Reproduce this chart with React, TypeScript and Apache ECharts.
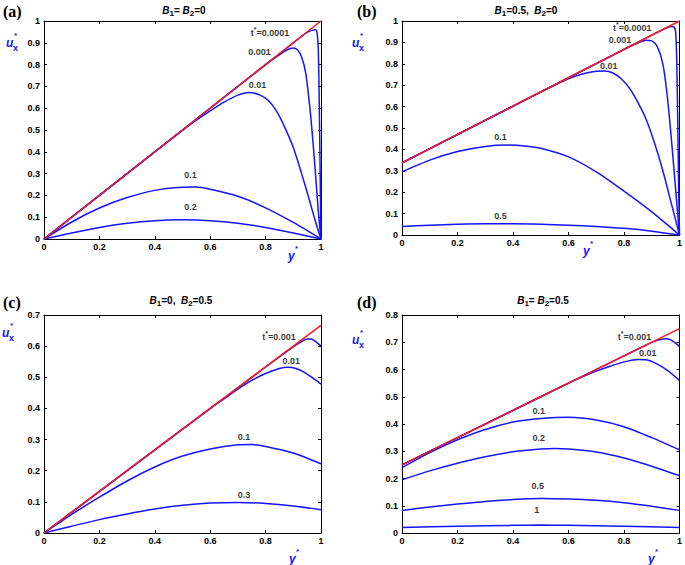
import React, { useEffect, useRef } from 'react';
import * as echarts from 'echarts';

type Pt = [number, number];

// ---------- Panel (a): B1 = B2 = 0 ----------
const aSteady: Pt[] = [[0, 0], [1, 1]];
const aT00001: Pt[] = [[0, 0], [0.5, 0.5], [0.9, 0.9], [0.95, 0.948], [0.97, 0.958], [0.98, 0.96], [0.985, 0.952], [0.99, 0.88], [0.994, 0.6], [0.997, 0.3], [1, 0]];
const aT0001: Pt[] = [[0, 0], [0.5, 0.5], [0.8, 0.8], [0.85, 0.845], [0.875, 0.866], [0.9, 0.876], [0.915, 0.868], [0.93, 0.835], [0.945, 0.76], [0.96, 0.6], [0.97, 0.46], [0.98, 0.3], [0.99, 0.13], [1, 0]];
const aT001: Pt[] = [[0, 0], [0.4, 0.4], [0.5, 0.498], [0.55, 0.545], [0.6, 0.588], [0.65, 0.628], [0.7, 0.66], [0.74, 0.672], [0.78, 0.66], [0.81, 0.635], [0.84, 0.585], [0.87, 0.51], [0.9, 0.42], [0.93, 0.3], [0.96, 0.17], [0.98, 0.08], [1, 0]];
const aT01: Pt[] = [[0, 0], [0.1, 0.078], [0.2, 0.142], [0.3, 0.19], [0.4, 0.223], [0.5, 0.237], [0.55, 0.238], [0.6, 0.228], [0.7, 0.196], [0.8, 0.143], [0.9, 0.076], [1, 0]];
const aT02: Pt[] = [[0, 0], [0.1, 0.028], [0.2, 0.053], [0.3, 0.072], [0.4, 0.084], [0.5, 0.088], [0.6, 0.084], [0.7, 0.072], [0.8, 0.053], [0.9, 0.028], [1, 0]];
const aLabels = ['t*=0.0001', '0.001', '0.01', '0.1', '0.2'];
const aLabelAt: Pt[] = [[0.816, 0.945], [0.778, 0.858], [0.771, 0.706], [0.529, 0.294], [0.529, 0.147]];

// ---------- Panel (b): B1 = 0.5, B2 = 0 ----------
const bSteady: Pt[] = [[0, 0.337], [1, 1]];
const bT00001: Pt[] = [[0, 0.337], [0.9, 0.934], [0.95, 0.966], [0.97, 0.974], [0.98, 0.972], [0.986, 0.95], [0.99, 0.82], [0.994, 0.5], [0.997, 0.22], [1, 0]];
const bT0001: Pt[] = [[0, 0.337], [0.8, 0.867], [0.85, 0.897], [0.88, 0.91], [0.9, 0.907], [0.92, 0.88], [0.94, 0.8], [0.955, 0.66], [0.97, 0.46], [0.985, 0.23], [1, 0]];
const bT001: Pt[] = [[0, 0.337], [0.5, 0.668], [0.55, 0.7], [0.6, 0.73], [0.65, 0.752], [0.7, 0.765], [0.73, 0.766], [0.76, 0.757], [0.79, 0.73], [0.82, 0.685], [0.85, 0.62], [0.88, 0.54], [0.91, 0.43], [0.94, 0.3], [0.97, 0.15], [1, 0]];
const bT01: Pt[] = [[0, 0.295], [0.1, 0.35], [0.2, 0.39], [0.3, 0.414], [0.38, 0.42], [0.45, 0.415], [0.5, 0.405], [0.6, 0.365], [0.7, 0.295], [0.8, 0.205], [0.9, 0.108], [1, 0]];
const bT05: Pt[] = [[0, 0.04], [0.1, 0.046], [0.2, 0.05], [0.3, 0.052], [0.4, 0.052], [0.5, 0.05], [0.6, 0.046], [0.7, 0.04], [0.8, 0.031], [0.9, 0.018], [1, 0]];
const bLabels = ['t*=0.0001', '0.001', '0.01', '0.1', '0.5'];
const bLabelAt: Pt[] = [[0.83, 0.967], [0.786, 0.911], [0.745, 0.79], [0.355, 0.458], [0.355, 0.089]];

// ---------- Panel (c): B1 = 0, B2 = 0.5 ----------
const cSteady: Pt[] = [[0, 0], [1, 0.667]];
const cT0001: Pt[] = [[0, 0], [0.8, 0.533], [0.9, 0.598], [0.93, 0.615], [0.95, 0.623], [0.965, 0.623], [0.98, 0.615], [1, 0.6]];
const cT001: Pt[] = [[0, 0], [0.6, 0.4], [0.65, 0.431], [0.7, 0.462], [0.75, 0.49], [0.8, 0.512], [0.85, 0.528], [0.88, 0.532], [0.91, 0.528], [0.94, 0.516], [0.97, 0.498], [1, 0.478]];
const cT01: Pt[] = [[0, 0], [0.05, 0.03], [0.1, 0.06], [0.2, 0.115], [0.3, 0.167], [0.4, 0.212], [0.5, 0.247], [0.6, 0.27], [0.7, 0.283], [0.75, 0.284], [0.8, 0.278], [0.9, 0.257], [1, 0.222]];
const cT03: Pt[] = [[0, 0], [0.1, 0.022], [0.2, 0.043], [0.3, 0.061], [0.4, 0.077], [0.5, 0.089], [0.6, 0.096], [0.7, 0.098], [0.8, 0.095], [0.9, 0.087], [1, 0.075]];
const cLabels = ['t*=0.001', '0.01', '0.1', '0.3'];
const cLabelAt: Pt[] = [[0.848, 0.629], [0.893, 0.552], [0.722, 0.308], [0.722, 0.122]];

// ---------- Panel (d): B1 = B2 = 0.5 ----------
const dSteady: Pt[] = [[0, 0.25], [1, 0.75]];
const dT0001: Pt[] = [[0, 0.25], [0.8, 0.65], [0.88, 0.69], [0.92, 0.707], [0.95, 0.713], [0.97, 0.708], [1, 0.685]];
const dT001: Pt[] = [[0, 0.25], [0.5, 0.5], [0.6, 0.55], [0.65, 0.573], [0.7, 0.594], [0.75, 0.612], [0.8, 0.628], [0.85, 0.637], [0.88, 0.636], [0.92, 0.62], [0.96, 0.594], [1, 0.56]];
const dT01: Pt[] = [[0, 0.24], [0.1, 0.295], [0.2, 0.342], [0.3, 0.38], [0.4, 0.407], [0.5, 0.42], [0.6, 0.425], [0.7, 0.415], [0.8, 0.39], [0.9, 0.35], [1, 0.305]];
const dT02: Pt[] = [[0, 0.195], [0.1, 0.228], [0.2, 0.256], [0.3, 0.28], [0.4, 0.298], [0.5, 0.308], [0.55, 0.31], [0.6, 0.308], [0.7, 0.297], [0.8, 0.275], [0.9, 0.245], [1, 0.21]];
const dT05: Pt[] = [[0, 0.083], [0.1, 0.095], [0.2, 0.106], [0.3, 0.116], [0.4, 0.123], [0.5, 0.127], [0.6, 0.125], [0.7, 0.12], [0.8, 0.111], [0.9, 0.098], [1, 0.083]];
const dT1: Pt[] = [[0, 0.02], [0.2, 0.025], [0.4, 0.028], [0.5, 0.029], [0.6, 0.028], [0.8, 0.025], [1, 0.02]];
const dLabels = ['t*=0.001', '0.01', '0.1', '0.2', '0.5', '1'];
const dLabelAt: Pt[] = [[0.8375, 0.719], [0.886, 0.66], [0.493, 0.448], [0.493, 0.349], [0.489, 0.172], [0.486, 0.084]];

// axis ranges
const yMaxes = [1, 1, 0.7, 0.8];
const xMax = 1;

const panelLetters = ['(a)', '(b)', '(c)', '(d)'];
const panelTitles = [
  '{i|B}{sub|1}{n|= }{i|B}{sub|2}{n|=0}',
  '{i|B}{sub|1}{n|=0.5,  }{i|B}{sub|2}{n|=0}',
  '{i|B}{sub|1}{n|=0,  }{i|B}{sub|2}{n|=0.5}',
  '{i|B}{sub|1}{n|= }{i|B}{sub|2}{n|=0.5}',
];

const panels = [
  { steady: aSteady, curves: [aT00001, aT0001, aT001, aT01, aT02], labels: aLabels, labelAt: aLabelAt },
  { steady: bSteady, curves: [bT00001, bT0001, bT001, bT01, bT05], labels: bLabels, labelAt: bLabelAt },
  { steady: cSteady, curves: [cT0001, cT001, cT01, cT03], labels: cLabels, labelAt: cLabelAt },
  { steady: dSteady, curves: [dT0001, dT001, dT01, dT02, dT05, dT1], labels: dLabels, labelAt: dLabelAt },
];

// layout (pixels)
const grids = [
  { left: 44, top: 21, width: 277, height: 218 },
  { left: 402, top: 21, width: 280, height: 214 },
  { left: 44, top: 315, width: 277, height: 218 },
  { left: 402, top: 315, width: 280, height: 218 },
];
const letterPos = [[3, 11], [357, 11], [3, 302], [357, 302]];
const titlePos = [[184, 10], [526, 10], [181, 300], [543, 300]];
const uPos = [[6, 43], [352, 43], [2, 333], [352, 340]];
const yNamePos = [[288, 256], [583, 251], [289, 559], [648, 559]];

const FONT = '"Liberation Sans", Arial, sans-serif';
const SERIF = '"Liberation Serif", "Times New Roman", serif';
const BLUE = '#1414ff';
const RED = '#ff1a1a';

function buildOption() {
  const xAxes: any[] = [];
  const yAxes: any[] = [];
  const series: any[] = [];
  const graphic: any[] = [];
  const axisLineStyle = { color: '#000', width: 1 };

  panels.forEach((p, i) => {
    const common = { min: 0, splitLine: { show: false }, axisLine: { show: true, onZero: false, lineStyle: axisLineStyle } };
    xAxes.push({
      ...common, type: 'value', gridIndex: i, position: 'bottom', max: xMax, interval: 0.2,
      axisTick: { show: true, inside: true, length: 3, lineStyle: { color: '#000' } },
      axisLabel: { show: true, color: '#000', fontSize: 9, fontWeight: 'bold', fontFamily: FONT, margin: 3 },
    });
    xAxes.push({
      ...common, type: 'value', gridIndex: i, position: 'top', max: xMax, interval: 0.2,
      axisTick: { show: true, inside: true, length: 3, lineStyle: { color: '#000' } },
      axisLabel: { show: false },
    });
    yAxes.push({
      ...common, type: 'value', gridIndex: i, position: 'left', max: yMaxes[i], interval: 0.1,
      axisTick: { show: true, inside: true, length: 3, lineStyle: { color: '#000' } },
      axisLabel: { show: true, color: '#000', fontSize: 9, fontWeight: 'bold', fontFamily: FONT, margin: 4 },
    });
    yAxes.push({
      ...common, type: 'value', gridIndex: i, position: 'right', max: yMaxes[i], interval: 0.1,
      axisTick: { show: true, inside: true, length: 3, lineStyle: { color: '#000' } },
      axisLabel: { show: false },
    });
    const xi = i * 2;
    const yi = i * 2;
    p.curves.forEach((c) => {
      series.push({
        type: 'line', xAxisIndex: xi, yAxisIndex: yi, data: c, symbol: 'none', showSymbol: false,
        smooth: 0.25, silent: true, z: 2,
        lineStyle: { color: BLUE, width: 1.5 },
      });
    });
    series.push({
      type: 'line', xAxisIndex: xi, yAxisIndex: yi, data: p.steady, symbol: 'none', showSymbol: false,
      silent: true, z: 3, lineStyle: { color: RED, width: 1.5 },
    });
    series.push({
      type: 'scatter', xAxisIndex: xi, yAxisIndex: yi, silent: true, z: 4,
      symbolSize: 1, itemStyle: { color: 'rgba(0,0,0,0)' },
      data: p.labels.map((t, k) => ({ value: p.labelAt[k], name: t })),
      label: {
        show: true, position: 'inside', color: '#000',
        formatter: (prm: any) => {
          const s: string = prm.name;
          if (s.startsWith('t*')) return '{n|t}{s|*}{n|' + s.slice(2) + '}';
          return '{n|' + s + '}';
        },
        rich: {
          n: { fontSize: 9, fontWeight: 'bold', fontFamily: FONT, color: '#000' },
          s: { fontSize: 7, fontWeight: 'bold', fontFamily: FONT, color: '#000', padding: [0, 0, 7, 0] },
        },
      },
    });

    graphic.push({
      type: 'text', x: letterPos[i][0], y: letterPos[i][1],
      style: { text: panelLetters[i], font: 'bold 16px ' + SERIF, fill: '#000', align: 'left', verticalAlign: 'middle' },
    });
    graphic.push({
      type: 'text', x: titlePos[i][0], y: titlePos[i][1],
      style: {
        text: panelTitles[i], align: 'center', verticalAlign: 'middle', fill: '#000',
        rich: {
          i: { fontSize: 10, fontStyle: 'italic', fontWeight: 'bold', fontFamily: FONT, fill: '#000' },
          n: { fontSize: 10, fontWeight: 'bold', fontFamily: FONT, fill: '#000' },
          sub: { fontSize: 8, fontWeight: 'bold', fontFamily: FONT, fill: '#000', padding: [6, 0, 0, 0] },
        },
      },
    });
    const [ux, uy] = uPos[i];
    graphic.push({
      type: 'text', x: ux, y: uy,
      style: { text: 'u', font: 'italic bold 12px ' + FONT, fill: BLUE, align: 'left', verticalAlign: 'middle' },
    });
    graphic.push({
      type: 'text', x: ux + 8, y: uy - 8,
      style: { text: '*', font: 'bold 8px ' + FONT, fill: BLUE, align: 'left', verticalAlign: 'middle' },
    });
    graphic.push({
      type: 'text', x: ux + 7, y: uy + 5,
      style: { text: 'x', font: 'bold 9px ' + FONT, fill: BLUE, align: 'left', verticalAlign: 'middle' },
    });
    const [yx, yy] = yNamePos[i];
    graphic.push({
      type: 'text', x: yx, y: yy,
      style: { text: 'y', font: 'italic bold 12px ' + FONT, fill: BLUE, align: 'left', verticalAlign: 'middle' },
    });
    graphic.push({
      type: 'text', x: yx + 7, y: yy - 8,
      style: { text: '*', font: 'bold 8px ' + FONT, fill: BLUE, align: 'left', verticalAlign: 'middle' },
    });
  });

  return {
    animation: false,
    backgroundColor: '#fff',
    grid: grids.map((g) => ({ ...g, containLabel: false })),
    xAxis: xAxes,
    yAxis: yAxes,
    series,
    graphic,
  };
}

export default function App() {
  const ref = useRef<HTMLDivElement>(null);
  useEffect(() => {
    if (!ref.current) return;
    const chart = echarts.init(ref.current, undefined, { renderer: 'svg' });
    chart.setOption(buildOption() as any);
    return () => chart.dispose();
  }, []);
  return <div ref={ref} style={{ position: 'fixed', left: 0, top: 0, width: 685, height: 565 }} />;
}
